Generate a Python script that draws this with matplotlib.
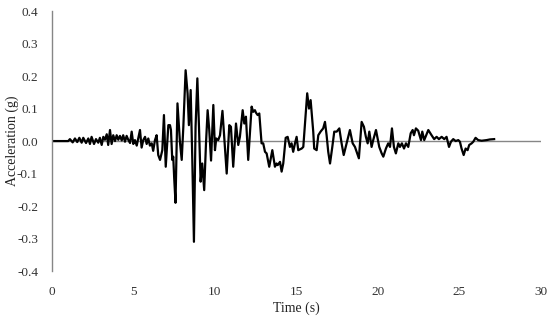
import matplotlib
matplotlib.use("Agg")
import matplotlib.pyplot as plt

plt.rcParams['font.family'] = ['Liberation Serif', 'DejaVu Serif']

time_s = [
    0.0, 1.0, 1.10, 1.27, 1.41, 1.55, 1.68, 1.82, 1.92, 2.09, 2.23, 2.33, 2.43, 2.58,
    2.70, 2.84, 2.94, 3.05, 3.15, 3.25, 3.36, 3.45, 3.56, 3.66, 3.76, 3.87, 3.97, 4.07,
    4.17, 4.28, 4.37, 4.48, 4.58, 4.68, 4.79, 4.89, 4.99, 5.09, 5.20, 5.40, 5.50, 5.60,
    5.71, 5.81, 5.91, 6.01, 6.12, 6.21, 6.32, 6.42, 6.52, 6.63, 6.77, 6.87, 6.98, 7.14,
    7.24, 7.30, 7.38, 7.44, 7.50, 7.58, 7.70, 7.85, 7.96, 8.06, 8.20, 8.32, 8.40, 8.51,
    8.61, 8.71, 8.81, 8.92, 9.02, 9.12, 9.22, 9.34, 9.45, 9.55, 9.65, 9.76, 9.90, 10.0,
    10.08, 10.20, 10.31, 10.46, 10.72, 10.88, 10.98, 11.12, 11.29, 11.43, 11.53, 11.70,
    11.80, 11.90, 12.04, 12.25, 12.35, 12.45, 12.52, 12.62, 12.72, 12.86, 12.96, 13.07,
    13.17, 13.33, 13.52, 13.68, 13.78, 13.85, 13.99, 14.09, 14.19, 14.34, 14.46, 14.60,
    14.70, 14.80, 14.91, 15.01, 15.11, 15.32, 15.42, 15.52, 15.66, 15.77, 15.87, 16.03,
    16.09, 16.24, 16.34, 16.48, 16.64, 16.75, 16.85, 16.95, 17.06, 17.20, 17.32, 17.47,
    17.63, 17.77, 17.90, 18.08, 18.28, 18.45, 18.59, 18.73, 18.83, 19.0, 19.14, 19.26,
    19.37, 19.47, 19.61, 19.71, 19.88, 19.98, 20.08, 20.23, 20.33, 20.49, 20.63, 20.74,
    20.86, 20.98, 21.10, 21.25, 21.35, 21.47, 21.60, 21.72, 21.86, 22.01, 22.13, 22.21,
    22.33, 22.47, 22.64, 22.72, 22.84, 23.09, 23.29, 23.45, 23.60, 23.74, 23.91, 24.07,
    24.21, 24.36, 24.48, 24.62, 24.77, 24.93, 25.03, 25.13, 25.26, 25.38, 25.50, 25.60,
    25.75, 25.85, 25.99, 26.15, 26.36, 26.67, 26.87, 27.13,
]
accel_g = [
    0.0, 0.0, 0.006, -0.004, 0.008, -0.003, 0.010, -0.005, 0.010, -0.006, 0.008, -0.009, 0.013, -0.009,
    0.006, -0.005, 0.010, -0.012, 0.013, 0.004, 0.021, -0.012, 0.034, -0.009, 0.018, 0.000, 0.018, 0.004,
    0.016, 0.002, 0.018, -0.002, 0.016, 0.004, -0.006, 0.029, -0.009, 0.003, -0.014, 0.034, -0.020, 0.003,
    0.013, -0.009, 0.008, -0.014, -0.007, -0.030, 0.003, 0.018, -0.043, -0.058, -0.028, 0.080, -0.079, 0.049,
    0.049, 0.034, -0.058, -0.048, -0.115, -0.190, 0.116, -0.002, -0.058, 0.044, 0.218, 0.147, 0.049, 0.157,
    -0.058, -0.310, 0.044, 0.193, 0.044, -0.125, -0.069, -0.151, -0.007, 0.095, 0.034, -0.060, 0.111, -0.028,
    0.008, 0.003, 0.018, 0.093, -0.100, 0.049, 0.044, -0.079, 0.054, -0.012, 0.013, 0.095,
    0.054, 0.075, -0.058, 0.106, 0.090, 0.095, 0.087, 0.080, 0.085, -0.007, -0.007, -0.033,
    -0.038, -0.079, -0.028, -0.079, -0.069, -0.074, -0.064, -0.094, -0.069, 0.010, 0.013, -0.018,
    -0.007, -0.033, -0.007, 0.013, -0.028, -0.023, -0.018, 0.049, 0.147, 0.100, 0.126, 0.029,
    -0.023, -0.028, 0.018, 0.029, 0.039, 0.059, 0.018, -0.033, -0.069, -0.018, 0.029, 0.029,
    0.039, -0.007, -0.043, -0.007, 0.034, -0.007, -0.018, -0.038, -0.053, 0.059, 0.044, 0.013,
    -0.007, 0.029, -0.018, 0.003, 0.034, 0.008, -0.018, -0.038, -0.048, -0.023, -0.007, -0.018,
    0.039, -0.018, -0.038, -0.007, -0.018, -0.007, -0.023, -0.007, -0.018, 0.024, 0.034, 0.018,
    0.039, 0.032, 0.003, 0.029, 0.003, 0.034, 0.018, 0.006, 0.013, 0.006, 0.013, 0.006,
    0.013, -0.018, -0.002, 0.006, 0.0, 0.003, -0.002, -0.023, -0.043, -0.023, -0.028, -0.012,
    -0.007, -0.002, 0.010, 0.003, 0.001, 0.003, 0.005, 0.006,
]

x_ticks = [0, 5, 10, 15, 20, 25, 30]
x_tick_labels = ['0', '5', '10', '15', '20', '25', '30']
y_ticks = [0.4, 0.3, 0.2, 0.1, 0.0, -0.1, -0.2, -0.3, -0.4]
y_tick_labels = ['0.4', '0.3', '0.2', '0.1', '0.0', '-0.1', '-0.2', '-0.3', '-0.4']

fig = plt.figure(figsize=(5.5, 3.17), dpi=100)
ax = fig.add_axes([0.0945, 0.145, 0.889, 0.82])

axis_grey = '#868686'
ax.axhline(0, color=axis_grey, lw=1.0, zorder=1)
ax.plot(time_s, accel_g, color='black', lw=1.6, zorder=2, solid_joinstyle='round')

ax.set_xlim(0, 30)
ax.set_ylim(-0.4, 0.4)
ax.set_xticks(x_ticks)
ax.set_xticklabels(x_tick_labels)
ax.set_yticks(y_ticks)
ax.set_yticklabels(y_tick_labels)
ax.tick_params(axis='both', length=0, labelsize=9.5, colors='#333333')
ax.tick_params(axis='x', pad=11)
ax.tick_params(axis='y', pad=10)

for s in ['top', 'right', 'bottom']:
    ax.spines[s].set_visible(False)
ax.spines['left'].set_color(axis_grey)
ax.spines['left'].set_linewidth(1.0)

ax.set_xlabel('Time (s)', fontsize=10, labelpad=2, color='#222222')
ax.set_ylabel('Acceleration (g)', fontsize=10, color='#222222')
ax.yaxis.set_label_coords(-0.068, 0.5)

fig.savefig('out.png', dpi=100)
